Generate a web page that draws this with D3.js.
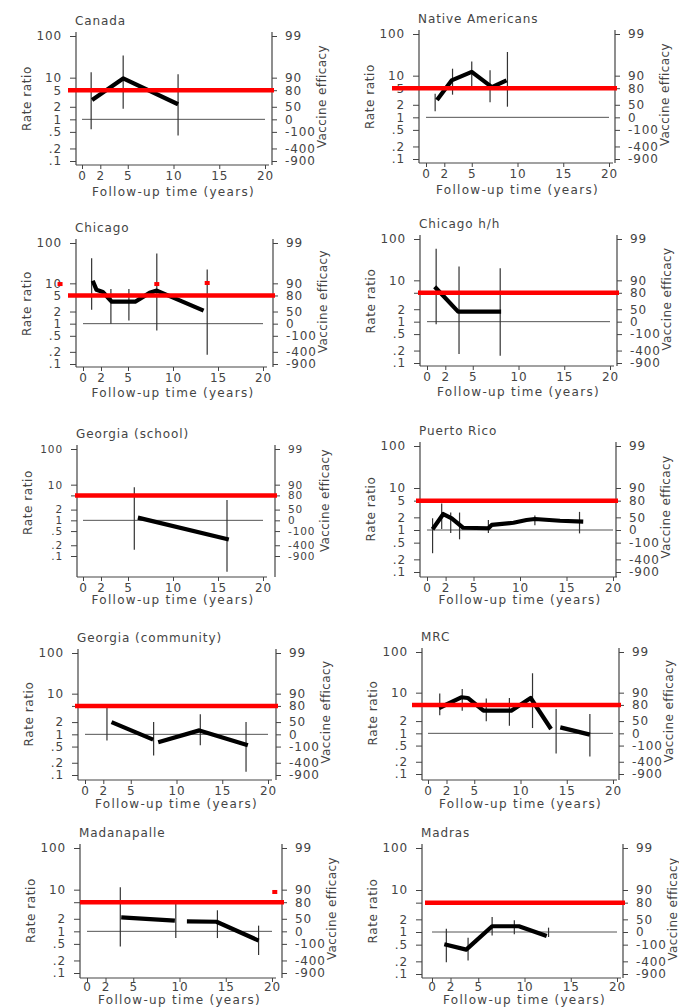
<!DOCTYPE html>
<meta charset="utf-8">
<head>
<style>
body { margin: 0; background: #fff; }
text {
  font-family: 'DejaVu Sans', sans-serif;
  font-size: 12px;
  fill: #444;
  letter-spacing: 0.9px;
}
.axis line { stroke: #444; }
</style>
<script src="https://d3js.org/d3.v7.min.js"></script>
</head>
<body>
<svg id="chart" width="679" height="1008"></svg>
<script>

// tick values shared by every panel
var rrTicks = [100, 10, 5, 2, 1, .5, .2, .1]
var rrLabels = ["100", "10", "5", "2", "1", ".5", ".2", ".1"]
var timeTicks = [0, 2, 5, 10, 15, 20]
var redLevel = 5   // rate ratio 5 = 80% efficacy

// estimates [years, rate ratio], null breaks the line
var canadaEst = [[1.1, 2.9], [4.5, 9.6], [10.5, 2.3]]
var canadaCI = [[1.0, 0.58, 13.4], [4.5, 1.8, 34], [10.5, 0.41, 12]]

var nativeEst = [[1.2, 2.6], [2.8, 7.7], [5.0, 12.3], [7.2, 5.3], [8.8, 7.7]]
var nativeCI = [[1.0, 1.4, 3.7], [2.9, 3.5, 14.7], [5.0, 5.5, 22], [7.0, 2.3, 13.4], [8.9, 1.8, 37]]

var chicagoEst = [[1.08, 11.6], [1.5, 6.9], [2.2, 6.1], [3.2, 3.5], [5.8, 3.5], [7.4, 5.8], [8.2, 6.6], [13.4, 2.1]]
var chicagoCI = [[0.96, 2.2, 42], [3.1, 1.0, 7.2], [5.1, 1.2, 7.2], [8.2, 0.68, 55], [13.8, 0.17, 22]]
var chicagoRed = [[-2.55, 9.6], [8.2, 9.6], [13.8, 10.2]]

var chicagoHHEst = [[0.84, 7.0], [3.4, 1.75], [8.1, 1.75]]
var chicagoHHCI = [[1.0, 0.86, 58], [3.5, 0.166, 21.6], [8.0, 0.15, 19.6]]

var georgiaSchoolEst = [[6.1, 1.19], [16.2, 0.29]]
var georgiaSchoolCI = [[5.7, 0.15, 8.4], [16.0, 0.036, 3.7]]

var puertoRicoEst = [[0.6, 1.04], [1.75, 2.4], [2.66, 1.9], [3.9, 1.13], [6.6, 1.1], [6.96, 1.32],
  [9.3, 1.49], [10.7, 1.73], [11.6, 1.83], [14.3, 1.66], [16.8, 1.58]]
var puertoRicoCI = [[0.6, 0.28, 1.9], [1.58, 1.05, 4.3], [2.55, 0.85, 2.6], [3.5, 0.6, 2.6],
  [6.6, 0.85, 1.73], [11.6, 1.3, 2.2], [16.4, 0.83, 2.7]]

var georgiaCommEst = [[2.9, 2.0], [7.45, 0.74], null, [8.0, 0.64], [12.5, 1.25], [17.8, 0.54]]
var georgiaCommCI = [[2.4, 0.71, 4.5], [7.5, 0.30, 2.0], [12.6, 0.54, 3.1], [17.6, 0.12, 2.0]]

var mrcEst = [[1.2, 4.2], [3.6, 7.7], [4.3, 7.4], [6.0, 3.6], [9.0, 3.6], [11.1, 7.4], [13.3, 1.28],
  null, [14.3, 1.4], [17.5, 0.93]]
var mrcCI = [[1.27, 2.8, 9.6], [3.7, 3.6, 12.3], [6.3, 1.97, 7.2], [8.8, 1.54, 7.4],
  [11.3, 1.35, 30], [13.85, 0.32, 3.96], [17.5, 0.27, 3.0]]

var madanapalleEst = [[3.7, 2.17], [9.5, 1.8], null, [10.8, 1.74], [14.0, 1.7], [18.55, 0.6]]
var madanapalleCI = [[3.6, 0.43, 11.4], [9.6, 0.69, 4.7], [14.1, 0.69, 3.2], [18.55, 0.27, 1.37]]
var madanapalleRed = [[20.3, 8.8]]

var madrasEst = [[1.33, 0.51], [3.7, 0.38], [6.5, 1.37], [9.4, 1.37], [12.4, 0.80]]
var madrasCI = [[1.55, 0.19, 1.2], [3.9, 0.21, 0.73], [6.5, 0.83, 2.28], [8.9, 0.88, 1.9], [12.6, 0.76, 1.27]]

// panel placement (the scan is a bit skewed, so each panel has its own frame)
// hide5: the "5" label is lost under the red line in the scan
var panels = [
  {name: "Canada", est: canadaEst, ci: canadaCI, L: 76, x0: 82, x20: 265, R: 272, top: 36, bot: 161, base: 165, redPad: 8, xlab: 31, xpad: 2},
  {name: "Native Americans", est: nativeEst, ci: nativeCI, L: 419, x0: 426, x20: 609, R: 615, top: 34, bot: 159, base: 163, redPad: 27, xlab: 31, xpad: 2},
  {name: "Chicago", est: chicagoEst, ci: chicagoCI, red: chicagoRed, L: 76, x0: 83, x20: 263, R: 273, top: 243, bot: 364, base: 367, redPad: 8, xlab: 30, xpad: 2},
  {name: "Chicago h/h", est: chicagoHHEst, ci: chicagoHHCI, L: 420, x0: 427, x20: 610, R: 617, top: 239, bot: 363, base: 366, redPad: 2, xlab: 30, xpad: 2, hide5: true},
  {name: "Georgia (school)", est: georgiaSchoolEst, ci: georgiaSchoolCI, L: 77, x0: 83, x20: 263, R: 275, top: 449, bot: 556, base: 577, redPad: 2, xlab: 27, xpad: 2, hide5: true, small: true},
  {name: "Puerto Rico", est: puertoRicoEst, ci: puertoRicoCI, L: 420, x0: 427, x20: 613, R: 616, top: 446, bot: 572, base: 577, redPad: 4, xlab: 27, xpad: 2},
  {name: "Georgia (community)", est: georgiaCommEst, ci: georgiaCommCI, L: 78, x0: 85, x20: 268, R: 276, top: 653, bot: 775, base: 780, redPad: 3, xlab: 28, xpad: 2, hide5: true},
  {name: "MRC", est: mrcEst, ci: mrcCI, L: 422, x0: 428, x20: 613, R: 619, top: 652, bot: 774, base: 780, redPad: 10, xlab: 28, xpad: 2, hide5: true},
  {name: "Madanapalle", est: madanapalleEst, ci: madanapalleCI, red: madanapalleRed, L: 80, x0: 87, x20: 272, R: 282, top: 848, bot: 973, base: 978, redPad: 0, xlab: 26, xpad: 0, hide5: true},
  {name: "Madras", est: madrasEst, ci: madrasCI, L: 422, x0: 432, x20: 617, R: 623, top: 848, bot: 974, base: 978, redPad: -3, xlab: 26, xpad: 0, hide5: true}
]

var svg = d3.select('#chart')

panels.forEach(function (p) {
  var g = svg.append('g')

  var x = d3.scaleLinear().domain([0, 20]).range([p.x0, p.x20])
  var y = d3.scaleLog().domain([0.1, 100]).range([p.bot, p.top])
  var tickFont = p.small ? '10.5px' : '12px'

  // left axis (rate ratio)
  var left = g.append('g')
    .attr('class', 'axis')
    .attr('transform', 'translate(' + p.L + ',0)')
    .call(d3.axisLeft(y).tickValues(rrTicks).tickSize(6).tickPadding(8)
      .tickFormat(function (d, i) { return (p.hide5 && d === 5) ? '' : rrLabels[i] }))
  left.select('.domain').remove()

  // right axis (vaccine efficacy = 1 - 1/RR)
  var right = g.append('g')
    .attr('class', 'axis')
    .attr('transform', 'translate(' + p.R + ',0)')
    .call(d3.axisRight(y).tickValues(rrTicks).tickSize(5).tickPadding(8)
      .tickFormat(function (d) { return Math.round(100 * (1 - 1 / d)) }))
  right.select('.domain').remove()

  // bottom axis
  var bottom = g.append('g')
    .attr('class', 'axis')
    .attr('transform', 'translate(0,' + p.base + ')')
    .call(d3.axisBottom(x).tickValues(timeTicks).tickSize(4).tickPadding(p.xpad))
  bottom.select('.domain').remove()

  g.selectAll('.axis text').style('font-family', "'DejaVu Sans', sans-serif").style('font-size', '12px').attr('fill', '#444')
  left.selectAll('text').style('font-size', tickFont)
  right.selectAll('text').style('font-size', tickFont)

  // frame lines
  g.append('line').attr('x1', p.L).attr('x2', p.L).attr('y1', p.top - 4).attr('y2', p.base)
    .attr('stroke', '#444').attr('stroke-width', 1.2)
  g.append('line').attr('x1', p.R).attr('x2', p.R).attr('y1', p.top - 4).attr('y2', p.base)
    .attr('stroke', '#444').attr('stroke-width', 1.2)
  g.append('line').attr('x1', p.L).attr('x2', x(20) + 4).attr('y1', p.base).attr('y2', p.base)
    .attr('stroke', '#444').attr('stroke-width', 1.2)

  // reference line at RR 1
  g.append('line').attr('x1', x(0)).attr('x2', x(20)).attr('y1', y(1)).attr('y2', y(1))
    .attr('stroke', '#555').attr('stroke-width', 1)

  // confidence intervals
  g.selectAll('.ci')
    .data(p.ci)
    .enter().append('line')
    .attr('class', 'ci')
    .attr('x1', function (d) { return x(d[0]) })
    .attr('x2', function (d) { return x(d[0]) })
    .attr('y1', function (d) { return y(d[1]) })
    .attr('y2', function (d) { return y(d[2]) })
    .attr('stroke', '#333')
    .attr('stroke-width', 1.2)

  // estimates
  var line = d3.line()
    .defined(function (d) { return d !== null })
    .x(function (d) { return x(d[0]) })
    .y(function (d) { return y(d[1]) })

  g.append('path')
    .datum(p.est)
    .attr('d', line)
    .attr('fill', 'none')
    .attr('stroke', '#000')
    .attr('stroke-width', 4.2)
    .attr('stroke-linejoin', 'round')

  // 80% efficacy line
  g.append('line')
    .attr('x1', p.L - p.redPad).attr('x2', p.R + 2)
    .attr('y1', y(redLevel)).attr('y2', y(redLevel))
    .attr('stroke', '#ff0000')
    .attr('stroke-width', 4.5)

  if (p.red) {
    g.selectAll('.redmark')
      .data(p.red)
      .enter().append('rect')
      .attr('class', 'redmark')
      .attr('x', function (d) { return x(d[0]) - 2.5 })
      .attr('y', function (d) { return y(d[1]) - 2 })
      .attr('width', 5)
      .attr('height', 4)
      .attr('fill', '#ff0000')
  }

  // labels
  g.append('text')
    .attr('x', p.L - 1)
    .attr('y', p.top - 11)
    .text(p.name)

  g.append('text')
    .attr('x', (x(0) + x(20)) / 2)
    .attr('y', p.base + p.xlab)
    .attr('text-anchor', 'middle')
    .style('letter-spacing', '1.3px')
    .text('Follow-up time (years)')

  var midY = (p.top + p.bot) / 2
  g.append('text')
    .attr('transform', 'translate(' + (p.L - 45) + ',' + midY + ') rotate(-90)')
    .attr('text-anchor', 'middle')
    .style('letter-spacing', '0.6px')
    .text('Rate ratio')

  g.append('text')
    .attr('transform', 'translate(' + (p.R + 54) + ',' + (midY - 2) + ') rotate(-90)')
    .attr('text-anchor', 'middle')
    .style('letter-spacing', '0.4px')
    .text('Vaccine efficacy')
})

</script>
</body>
</html>
